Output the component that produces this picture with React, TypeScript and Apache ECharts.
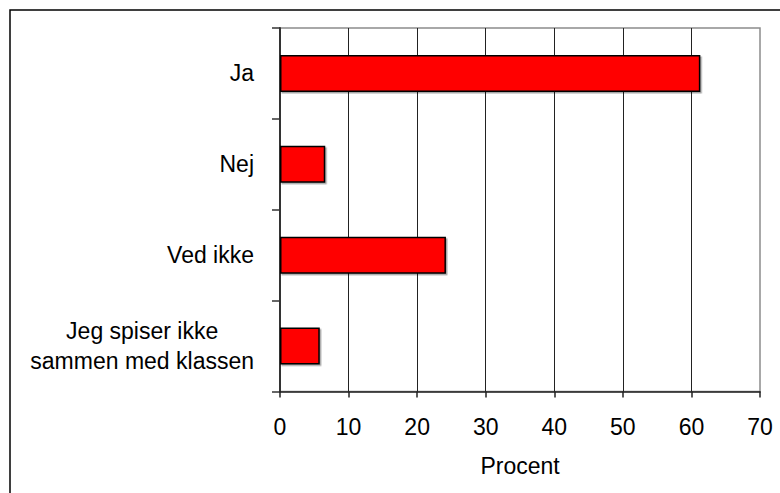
import React, { useEffect, useRef } from "react";
import * as echarts from "echarts";

const categories = ["Ja", "Nej", "Ved ikke", "Jeg spiser ikke\nsammen med klassen"];
const values = [61.3, 6.6, 24.2, 5.8];
const axisName = "Procent";

export default function App() {
  const ref = useRef<HTMLDivElement>(null);
  useEffect(() => {
    if (!ref.current) return;
    const chart = echarts.init(ref.current, null, { renderer: "svg" });
    const font = "'Liberation Sans', Arial, sans-serif";
    chart.setOption({
      animation: false,
      backgroundColor: "#fff",
      graphic: [
        {
          type: "rect",
          shape: { x: 10, y: 10, width: 900, height: 700 },
          style: { fill: "none", stroke: "#000", lineWidth: 1.5 },
          silent: true,
        },
      ],
      grid: {
        left: 280,
        top: 28,
        right: 20,
        bottom: 101.5,
        show: true,
        borderColor: "#8c8c8c",
        borderWidth: 1.5,
        backgroundColor: "transparent",
      },
      xAxis: {
        type: "value",
        min: 0,
        max: 70,
        interval: 10,
        name: axisName,
        nameLocation: "middle",
        nameGap: 63,
        nameTextStyle: { fontFamily: font, fontSize: 23, color: "#000" },
        axisLine: { show: true, lineStyle: { color: "#222", width: 1.5 } },
        axisTick: { show: true, length: 6, lineStyle: { color: "#222", width: 1.5 } },
        axisLabel: { fontFamily: font, fontSize: 23, color: "#000", margin: 24 },
        splitLine: {
          show: true,
          showMinLine: false,
          showMaxLine: false,
          lineStyle: { color: "#222", width: 1 },
        },
      },
      yAxis: {
        type: "category",
        data: categories,
        inverse: true,
        axisLine: { show: true, lineStyle: { color: "#333", width: 2 } },
        axisTick: { show: true, length: 8, lineStyle: { color: "#333", width: 1.5 } },
        axisLabel: {
          fontFamily: font,
          fontSize: 23,
          color: "#000",
          margin: 26,
          lineHeight: 30,
          formatter: (v: string) =>
            v
              .split("\n")
              .map((l) => "{c|" + l + "}")
              .join("\n"),
          rich: {
            c: { fontFamily: font, fontSize: 23, color: "#000", lineHeight: 30, align: "center" },
          },
        },
        splitLine: { show: false },
      },
      series: [
        {
          type: "bar",
          data: values,
          barWidth: 37,
          itemStyle: {
            color: "#ff0000",
            borderColor: "#000",
            borderWidth: 1.5,
            shadowColor: "rgba(0,0,0,0.35)",
            shadowBlur: 1,
            shadowOffsetX: 1.5,
            shadowOffsetY: 1.5,
          },
        },
      ],
    });
    return () => chart.dispose();
  }, []);
  return (
    <div
      ref={ref}
      style={{ position: "absolute", left: 0, top: 0, width: 780, height: 493 }}
    />
  );
}
